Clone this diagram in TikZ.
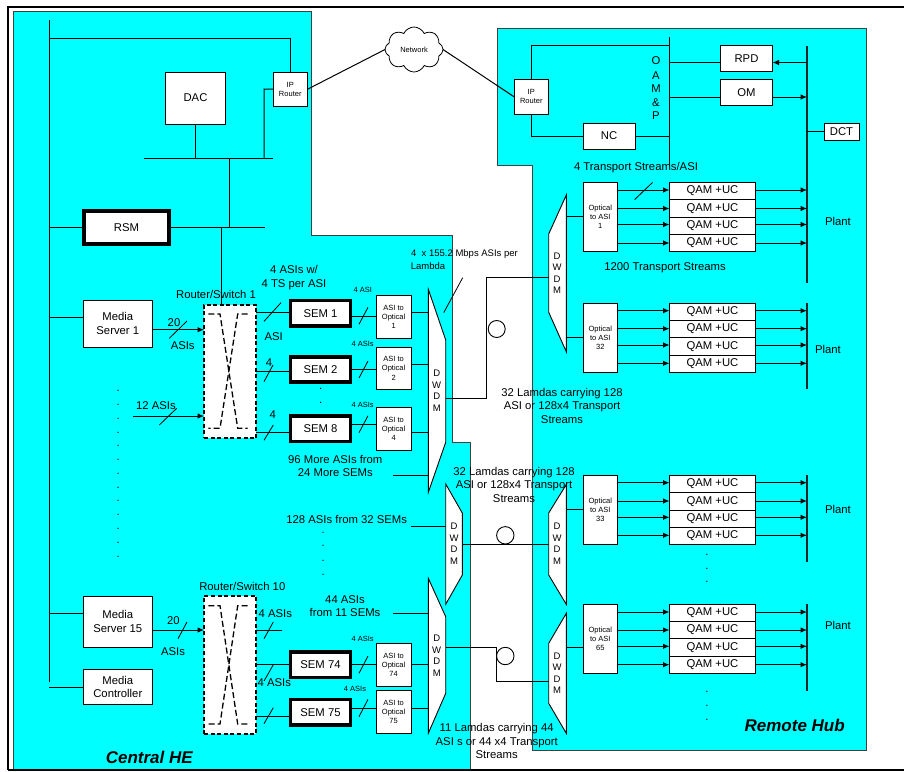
\documentclass[tikz,border=0pt]{standalone}
\usepackage{fontspec}
\setmainfont{Liberation Sans}
\usetikzlibrary{arrows.meta,shapes.symbols}
\definecolor{regioncyan}{HTML}{00FFFF}
\newcommand\fntA{\fontsize{11.3}{13.6}\selectfont}
\newcommand\fntB{\fontsize{7.5}{9.2}\selectfont}
\newcommand\fntC{\fontsize{9.5}{11.5}\selectfont}
\newcommand\fntD{\fontsize{17}{20}\bfseries\itshape\selectfont}
\tikzset{
  box/.style={draw=black,line width=0.9pt,fill=white,inner sep=0pt,outer sep=0pt,align=center,font=\fntA},
  smallbox/.style={box,font=\fntB},
  heavybox/.style={box,line width=3.4pt},
  routerbox/.style={draw=black,line width=1.7pt,fill=white,dash pattern=on 4pt off 2.6pt,inner sep=0pt,outer sep=0pt},
  crossline/.style={draw=black,line width=1.3pt,dash pattern=on 6pt off 3pt},
  region/.style={draw=black!75,line width=0.9pt,fill=regioncyan},
  wire/.style={draw=black,line width=1pt},
  lanline/.style={draw=black,line width=1pt},
  busline/.style={draw=black!85,line width=1.2pt},
  arr/.style={wire,-{Latex[length=6.5pt,width=5.5pt]}},
  slash/.style={draw=black,line width=0.8pt},
  dwdm/.style={draw=black,line width=0.9pt,fill=white},
  wave/.style={draw=black,line width=0.9pt},
  txt/.style={inner sep=0pt,outer sep=0pt,align=center,font=\fntA},
  txtsmall/.style={txt,font=\fntB},
  txtmid/.style={txt,font=\fntC},
  title/.style={txt,font=\fntD},
  letters/.style={txt,font=\fontsize{9.5}{11.5}\selectfont},
  dotmark/.style={inner sep=0pt,outer sep=0pt,anchor=base,font=\fntA}
}
\newcommand\bx[7][box]{%
  \pgfmathsetmacro\bxw{#5-#3}\pgfmathsetmacro\bxh{#6-#4}%
  \pgfmathsetmacro\bxx{(#3+#5)/2}\pgfmathsetmacro\bxy{(#4+#6)/2}%
  \node[#1,minimum width=\bxw pt,minimum height=\bxh pt] (#2) at (\bxx,\bxy) {#7};}
% id, bus, number, five box boundaries, arrow heights
\newcommand\qamset[9]{%
  \bx[smallbox]{opt#1}{583}{#4}{617.5}{#8}{Optical\\to ASI\\#3}
  \bx{qam#1a}{669.5}{#4}{755.5}{#5}{QAM +UC}
  \bx{qam#1b}{669.5}{#5}{755.5}{#6}{QAM +UC}
  \bx{qam#1c}{669.5}{#6}{755.5}{#7}{QAM +UC}
  \bx{qam#1d}{669.5}{#7}{755.5}{#8}{QAM +UC}
  \foreach \a in {#9} {
    \draw[arr] (opt#1.east |- 0,\a) -- (qam#1a.west |- 0,\a);
    \draw[arr] (qam#1a.east |- 0,\a) -- (#2 |- 0,\a);
  }}
\begin{document}
\begin{tikzpicture}[x=1pt,y=-1pt]
\useasboundingbox (0,0) rectangle (904,771);
\fill[white] (0,0) rectangle (904,771);
% regions
\draw[region] (13,769) -- (13,11.5) -- (311.5,11.5) -- (311.5,235.5) -- (452,235.5) -- (452,442) -- (470,442) -- (470,769);
\draw[region] (497,28) -- (866,28) -- (866,750.5) -- (532,750.5) -- (532,165) -- (497,165) -- cycle;
% page frame
\draw[black,line width=2pt] (904,7) -- (8,7) -- (8,770);
\draw[black,line width=1.4pt] (8,770) -- (904,770);

% Central HE: upper part
\coordinate (lanTop) at (49,20);
\coordinate (lanBot) at (49,682);
\draw[lanline] (lanTop) -- (lanBot);
\bx{dac}{165.5}{72}{225.5}{124}{DAC}
\bx[smallbox]{ip1}{273}{72}{307.5}{106.5}{IP\\Router}
\bx[heavybox]{rsm}{84}{211}{169}{244}{RSM}
\coordinate (busAl) at (143.5,158);
\coordinate (busAr) at (273,158);
\coordinate (busBr) at (264.5,227);
\draw[lanline] (busAl) -- (busAr);
\draw[wire] (dac.south) -- (dac.south |- busAl);
\draw[wire] (ip1.west) -- (264,89) -- (264,158);
\draw[wire] (lanTop |- 0,38) -- (ip1.north |- 0,38) -- (ip1.north);
\draw[wire] (229.5,158) -- (229.5,227);
\draw[wire] (lanTop |- rsm.west) -- (rsm.west);
\draw[wire] (rsm.east |- 0,227) -- (busBr);

% Network cloud
\node[cloud,draw=black,line width=0.8pt,fill=white,cloud puffs=8,cloud puff arc=130,aspect=1.3,inner sep=0pt,outer sep=0pt,
  minimum width=58pt,minimum height=45pt,font=\fntB] (net) at (414,49.5) {Network};
\draw[wire] (ip1.east) -- (net.west);

% Remote hub: OAM&P
\bx[smallbox]{ip2}{514}{79.5}{548.5}{114}{IP\\Router}
\bx{nc}{583}{123}{635}{149}{NC}
\bx{rpd}{720.5}{45.5}{772.5}{71}{RPD}
\bx{om}{720.5}{79.5}{772.5}{105.5}{OM}
\bx{dct}{824}{123}{859}{140}{DCT}
\coordinate (oamTop) at (669.5,37);
\coordinate (oamBot) at (669.5,166);
\coordinate (pl1Top) at (807,45.5);
\coordinate (pl1Bot) at (807,283);
\coordinate (pl2Top) at (807,303);
\coordinate (pl2Bot) at (807,389);
\coordinate (pl3Top) at (807,475);
\coordinate (pl3Bot) at (807,561.7);
\coordinate (pl4Top) at (807,604.3);
\coordinate (pl4Bot) at (807,691);
\draw[lanline] (oamTop) -- (oamBot);
\draw[busline] (pl1Top) -- (pl1Bot);
\draw[busline] (pl2Top) -- (pl2Bot);
\draw[busline] (pl3Top) -- (pl3Bot);
\draw[busline] (pl4Top) -- (pl4Bot);
\draw[wire] (net.east) -- (ip2.west);
\draw[wire] (ip2.north) -- (ip2.north |- 0,45.5) -- (oamTop |- 0,45.5);
\draw[wire] (ip2.south) -- (ip2.south |- nc.west) -- (nc.west);
\draw[wire] (nc.east) -- (oamTop |- nc.east);
\draw[wire] (oamTop |- 0,62.5) -- (rpd.west |- 0,62.5);
\draw[arr] (pl1Top |- 0,62.5) -- (rpd.east |- 0,62.5);
\draw[wire] (oamTop |- 0,97) -- (om.west |- 0,97);
\draw[arr] (om.east |- 0,97) -- (pl1Top |- 0,97);
\draw[wire] (pl1Top |- dct.west) -- (dct.west);

% QAM groups
\qamset{A}{pl1Top}{1}{182.5}{199.5}{217}{234}{251}{190,208.5,224.5,243}
\qamset{B}{pl2Top}{32}{303.5}{320.5}{337.5}{355}{372}{310.7,328.7,345,363.3}
\qamset{C}{pl3Top}{33}{475.5}{492.5}{510}{527}{544}{482.7,501,517.3,535.3}
\qamset{D}{pl4Top}{65}{604.5}{621.5}{638.5}{656}{673.5}{612,630,646.3,664.7}

% Central HE: media servers, routers
\bx{ms1}{83.3}{300.3}{152.3}{347}{Media\\Server 1}
\bx{ms15}{83.3}{596}{152.3}{647.3}{Media\\Server 15}
\bx{mc}{83.3}{669.3}{152.3}{704.7}{Media\\Controller}
\bx[routerbox]{rs1}{204}{304.7}{256}{438.3}{}
\bx[routerbox]{rs10}{204}{596}{256}{734}{}
\draw[wire] (lanTop |- 0,317.3) -- (ms1.west |- 0,317.3);
\draw[wire] (lanTop |- 0,613) -- (ms15.west |- 0,613);
\draw[wire] (lanTop |- mc.west) -- (mc.west);
\draw[wire] (221.5,227) -- (221.5 ,0 |- rs1.north);
\draw[arr] (ms1.east |- 0,329.7) -- (rs1.west |- 0,329.7);
\coordinate (in12) at (133.3,416);
\draw[arr] (in12) -- (rs1.west |- in12);
\draw[arr] (ms15.east |- 0,630) -- (rs10.west |- 0,630);
\draw[crossline] (208.3,314) -- (220,314) -- (237.7,428.3) -- (247.7,428.3);
\draw[crossline] (247.7,314) -- (237.7,314) -- (220,428.3) -- (208.3,428.3);
\draw[crossline] (208.3,605.7) -- (220,605.7) -- (237.7,724) -- (247.7,724);
\draw[crossline] (247.7,605.7) -- (237.7,605.7) -- (220,724) -- (208.3,724);

% SEMs and ASI to Optical
\bx[heavybox]{sem1}{290.5}{300.5}{350.5}{326}{SEM 1}
\bx[heavybox]{sem2}{290.5}{357}{350.5}{382}{SEM 2}
\bx[heavybox]{sem8}{290.5}{416}{350.5}{441.5}{SEM 8}
\bx[heavybox]{sem74}{290.5}{652}{350.5}{677.5}{SEM 74}
\bx[heavybox]{sem75}{290.5}{699.5}{350.5}{725}{SEM 75}
\bx[smallbox]{ao1}{376.3}{295}{411}{338.3}{ASI to\\Optical\\1}
\bx[smallbox]{ao2}{376.3}{347}{411}{389.7}{ASI to\\Optical\\2}
\bx[smallbox]{ao4}{376.3}{407}{411}{450.3}{ASI to\\Optical\\4}
\bx[smallbox]{ao74}{376.3}{643.3}{411}{686}{ASI to\\Optical\\74}
\bx[smallbox]{ao75}{376.3}{690.3}{411}{733.7}{ASI to\\Optical\\75}
\draw[wire] (rs1.east |- 0,312.3) -- (sem1.west |- 0,312.3);
\draw[wire] (rs1.east |- 0,371.3) -- (sem2.west |- 0,371.3);
\draw[wire] (rs1.east |- 0,432.7) -- (sem8.west |- 0,432.7);
\coordinate (asiEnd) at (281.7,630);
\draw[wire] (rs10.east |- asiEnd) -- (asiEnd);
\draw[wire] (rs10.east |- 0,664.7) -- (sem74.west |- 0,664.7);
\draw[wire] (rs10.east |- 0,716.7) -- (sem75.west |- 0,716.7);
\draw[wire] (sem1.east |- 0,316) -- (ao1.west |- 0,316);
\draw[wire] (sem2.east |- 0,369.3) -- (ao2.west |- 0,369.3);
\draw[wire] (sem8.east |- 0,424.3) -- (ao4.west |- 0,424.3);
\draw[wire] (sem74.east |- 0,664.7) -- (ao74.west |- 0,664.7);
\draw[wire] (sem75.east |- 0,708) -- (ao75.west |- 0,708);

% DWDM multiplexers
\coordinate (dCa) at (428.3,289.3);
\coordinate (dCb) at (445.7,340);
\coordinate (dCc) at (445.7,442.3);
\coordinate (dCd) at (428.3,492.3);
\coordinate (dDa) at (445.7,484);
\coordinate (dDb) at (462.3,513);
\coordinate (dDc) at (462.3,575);
\coordinate (dDd) at (445.7,604.3);
\coordinate (dEa) at (428.3,578.3);
\coordinate (dEb) at (445.7,616.7);
\coordinate (dEc) at (445.7,693.3);
\coordinate (dEd) at (428.3,733.3);
\coordinate (dRa) at (566.3,195);
\coordinate (dRb) at (548.7,234);
\coordinate (dRc) at (548.7,312.3);
\coordinate (dRd) at (566.3,351.7);
\coordinate (dSa) at (566.3,484.5);
\coordinate (dSb) at (548.7,513);
\coordinate (dSc) at (548.7,575);
\coordinate (dSd) at (566.3,604.3);
\coordinate (dTa) at (566.3,613.3);
\coordinate (dTb) at (548.7,643.3);
\coordinate (dTc) at (548.7,703.3);
\coordinate (dTd) at (566.3,733.3);
\draw[wire] (ao1.east |- 0,312.3) -- (dCa |- 0,312.3);
\draw[wire] (ao2.east |- 0,364.3) -- (dCa |- 0,364.3);
\draw[wire] (ao4.east |- 0,432.7) -- (dCa |- 0,432.7);
\coordinate (in96) at (393.3,475.3);
\draw[wire] (in96) -- (dCa |- in96);
\coordinate (in128) at (411,526.7);
\draw[wire] (in128) -- (dDa |- in128);
\coordinate (in44) at (393.3,613);
\draw[wire] (in44) -- (dEa |- in44);
\draw[wire] (ao74.east |- 0,664.7) -- (dEa |- 0,664.7);
\draw[wire] (ao75.east |- 0,708) -- (dEa |- 0,708);
\draw[wire] (dCb |- 0,398.3) -- (486.7,398.3) -- (486.7,277.7) -- (dRb |- 0,277.7);
\draw[wire] (dDb |- 0,544) -- (dSb |- 0,544);
\draw[wire] (dEb |- 0,647) -- (496.7,647) -- (496.7,681.7) -- (dTb |- 0,681.7);
\draw[wire] (dRa |- optA.west) -- (optA.west);
\draw[wire] (dRa |- optB.west) -- (optB.west);
\draw[wire] (dSa |- 0,509.5) -- (optC.west |- 0,509.5);
\draw[wire] (dTa |- 0,647) -- (optD.west |- 0,647);
\draw[dwdm] (dCa) -- (dCb) -- (dCc) -- (dCd) -- cycle;
\draw[dwdm] (dDa) -- (dDb) -- (dDc) -- (dDd) -- cycle;
\draw[dwdm] (dEa) -- (dEb) -- (dEc) -- (dEd) -- cycle;
\draw[dwdm] (dRa) -- (dRb) -- (dRc) -- (dRd) -- cycle;
\draw[dwdm] (dSa) -- (dSb) -- (dSc) -- (dSd) -- cycle;
\draw[dwdm] (dTa) -- (dTb) -- (dTc) -- (dTd) -- cycle;
\node[letters] (lC) at (436.7,390.7) {D\\W\\D\\M};
\node[letters] (lD) at (454,543.7) {D\\W\\D\\M};
\node[letters] (lE) at (436.7,655.7) {D\\W\\D\\M};
\node[letters] (lR) at (557,273.3) {D\\W\\D\\M};
\node[letters] (lS) at (557,543.7) {D\\W\\D\\M};
\node[letters] (lT) at (557,673) {D\\W\\D\\M};

% wavelength circles
\draw[wave] (496.7,329) circle (8.5);
\draw[wave] (505.3,535.3) circle (8.7);
\draw[wave] (505.3,656) circle (8.7);

% slashes
\draw[slash] (169.3,338.3) -- (187,321);
\draw[slash] (159.3,425) -- (176.7,408.3);
\draw[slash] (178,638.7) -- (187,622);
\draw[slash] (264,321.3) -- (281,302.7);
\draw[slash] (264,381.7) -- (273,365);
\draw[slash] (264,440.3) -- (273.3,425);
\draw[slash] (264,638.7) -- (273.3,622);
\draw[slash] (264,681) -- (273.3,664.7);
\draw[slash] (264,723.7) -- (273.3,707.7);
\draw[slash] (359,324.3) -- (368,307.3);
\draw[slash] (359,378) -- (368,361);
\draw[slash] (359,432.7) -- (368,415.7);
\draw[slash] (359,673.3) -- (368,656);
\draw[slash] (359,716.7) -- (368,699.3);
\draw[slash] (443.7,312.7) -- (462.7,277.7);
\draw[slash] (634.7,199.5) -- (652.5,182.5);

% labels
\node[txt] (oamO) at (656,61) {O};
\node[txt] (oamA) at (656,75.5) {A};
\node[txt] (oamM) at (656,89) {M};
\node[txt] (oamN) at (656,103) {\&};
\node[txt] (oamP) at (656,116) {P};
\node[txt] (tTS) at (636,168) {4 Transport Streams/ASI};
\node[txt] (tTot) at (665,268) {1200 Transport Streams};
\node[txt] (pA) at (838,221) {Plant};
\node[txt] (pB) at (828,349) {Plant};
\node[txt] (pC) at (838,509) {Plant};
\node[txt] (pD) at (838,625) {Plant};
\node[txtmid] (tLa) at (464.5,254.5) {4\ \ x 155.2 Mbps ASIs per};
\node[txtmid] (tLb) at (428,265.7) {Lambda};
\node[txt] (tR1) at (216,294.3) {Router/Switch 1};
\node[txt] (tR10) at (242.3,586.3) {Router/Switch 10};
\node[txt] (t4a) at (294,277.7) {4 ASIs w/\\4 TS per ASI};
\node[txt] (tAsi) at (273.7,337) {ASI};
\node[txt] (t4b) at (269,362.7) {4};
\node[txt] (t4c) at (272.7,415) {4};
\node[txt] (t20a) at (174,322.3) {20};
\node[txt] (tAa) at (182.7,346) {ASIs};
\node[txt] (t12) at (156,406) {12 ASIs};
\node[txtsmall] (s1) at (362.7,290.3) {4 ASI};
\node[txtsmall] (s2) at (362.7,344.3) {4 ASIs};
\node[txtsmall] (s3) at (362.7,405.3) {4 ASIs};
\node[txtsmall] (s4) at (362.7,639.3) {4 ASIs};
\node[txtsmall] (s5) at (355,689.3) {4 ASIs};
\node[txt] (t96) at (335.3,465.8) {96 More ASIs from\\24 More SEMs};
\node[txt] (t128) at (346.7,519) {128 ASIs from 32 SEMs};
\node[txt] (t44) at (345,606.2) {44 ASIs\\from 11 SEMs};
\node[txt] (t20b) at (173.3,620.3) {20};
\node[txt] (tAb) at (173,652) {ASIs};
\node[txt] (t4d) at (275.3,614) {4 ASIs};
\node[txt] (t4e) at (274.3,682.3) {4 ASIs};
\node[txt] (tL1) at (562,405.8) {32 Lamdas carrying 128\\ASI or 128x4 Transport\\Streams};
\node[txt] (tL2) at (514,484.8) {32 Lamdas carrying 128\\ASI or 128x4 Transport\\Streams};
\node[txt] (tL3) at (496.7,741) {11 Lamdas carrying 44\\ASI s or 44 x4 Transport\\Streams};
\node[title] (tCH) at (149.3,757.7) {Central HE};
\node[title] (tRH) at (794.7,725) {Remote Hub};

% dotted continuation marks
\foreach \n/\y in {a/391,b/405,c/419,d/433,e/446,f/460,g/474,h/488,i/501,j/515,k/529,l/543,m/557}
  \node[dotmark,name=dl\n] at (118.3,\y) {.};
\foreach \n/\y in {a/533.5,b/546,c/561.5,d/575}
  \node[dotmark,name=dm\n] at (323.3,\y) {.};
\foreach \n/\y in {a/389,b/403.5}
  \node[dotmark,name=ds\n] at (320.7,\y) {.};
\foreach \n/\y in {a/555.5,b/569.3,c/582.3,d/692,e/706.3,f/720.3}
  \node[dotmark,name=dq\n] at (707,\y) {.};
\end{tikzpicture}
\end{document}
